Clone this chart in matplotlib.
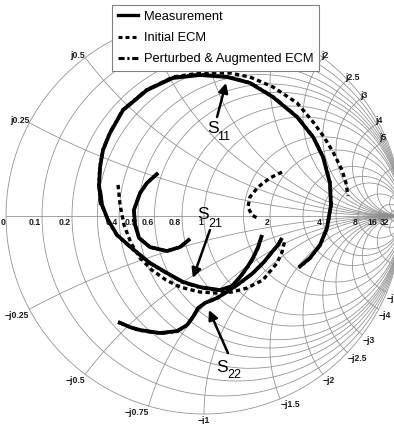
import numpy as np
import matplotlib
matplotlib.use('Agg')
import matplotlib.pyplot as plt
from matplotlib.lines import Line2D

plt.rcParams['font.family'] = ['Liberation Sans', 'DejaVu Sans']

# Smith chart grid values
r_grid = [0, 0.1, 0.2, 0.3, 0.4, 0.5, 0.6, 0.8, 1, 1.5, 2, 3, 4, 5, 8, 16, 32]
x_grid = [0.25, 0.5, 0.75, 1, 1.5, 2, 2.5, 3, 4, 5, 8, 16, 32]
r_labels = [0, 0.1, 0.2, 0.4, 0.5, 0.6, 0.8, 1, 2, 4, 8, 16, 32]
x_labels_up = [0.25, 0.5, 2, 2.5, 3, 4, 5]          # j0.75..j1.5 sit under the legend
x_labels_lo = [0.25, 0.5, 0.75, 1, 1.5, 2, 2.5, 3, 4, 5]

s11_meas_re = [-0.520, -0.530, -0.525, -0.510, -0.475, -0.409, -0.288, -0.157, -0.020, 0.116, 0.232,
               0.348, 0.470, 0.551, 0.601, 0.636, 0.641, 0.621, 0.586, 0.535, 0.480]
s11_meas_im = [0.056, 0.157, 0.247, 0.333, 0.419, 0.535, 0.636, 0.697, 0.712, 0.702, 0.672,
               0.601, 0.500, 0.399, 0.298, 0.167, 0.056, -0.061, -0.146, -0.212, -0.258]
s21_meas_re = [-0.525, -0.515, -0.485, -0.439, -0.359, -0.273, -0.187, -0.106, -0.020, 0.081,
               0.141, 0.182, 0.222, 0.247, 0.273, 0.293]
s21_meas_im = [0.131, 0.056, -0.020, -0.096, -0.167, -0.237, -0.288, -0.333, -0.359, -0.374,
               -0.354, -0.308, -0.253, -0.212, -0.157, -0.096]
s22_meas_re = [-0.434, -0.374, -0.323, -0.222, -0.136, -0.086, -0.056, -0.030, 0.005, 0.066,
               0.121, 0.182, 0.247, 0.303, 0.343, 0.374, 0.394]
s22_meas_im = [-0.535, -0.561, -0.576, -0.591, -0.581, -0.551, -0.510, -0.465, -0.439, -0.414,
               -0.379, -0.338, -0.288, -0.232, -0.182, -0.146, -0.111]
s12_meas_re = [-0.232, -0.288, -0.323, -0.354, -0.348, -0.328, -0.273, -0.187, -0.121, -0.071]
s12_meas_im = [0.217, 0.167, 0.116, 0.030, -0.045, -0.111, -0.157, -0.177, -0.157, -0.116]

s11_init_re = [-0.409, -0.288, -0.157, -0.020, 0.131, 0.232, 0.348, 0.470, 0.551, 0.606, 0.652,
               0.697, 0.717, 0.727]
s11_init_im = [0.535, 0.636, 0.702, 0.722, 0.722, 0.702, 0.652, 0.571, 0.475, 0.399, 0.323,
               0.232, 0.167, 0.101]
s21_init_re = [-0.434, -0.424, -0.404, -0.369, -0.323, -0.263, -0.192, -0.121, -0.020, 0.066,
               0.141, 0.217, 0.298, 0.369, 0.394, 0.409]
s21_init_im = [0.157, 0.056, -0.045, -0.136, -0.212, -0.273, -0.323, -0.359, -0.384, -0.389,
               -0.384, -0.364, -0.323, -0.237, -0.182, -0.121]
s12_init_re = [0.394, 0.333, 0.273, 0.232, 0.222, 0.242, 0.268]
s12_init_im = [0.222, 0.192, 0.146, 0.096, 0.045, 0.005, -0.010]

s11_pert_re = [-0.522, -0.531, -0.526, -0.511, -0.476, -0.410, -0.289, -0.158, -0.021, 0.117, 0.233,
               0.349, 0.471, 0.552, 0.602, 0.637, 0.642, 0.622, 0.587, 0.536, 0.478]
s11_pert_im = [0.056, 0.157, 0.248, 0.334, 0.420, 0.536, 0.638, 0.699, 0.714, 0.704, 0.673,
               0.602, 0.501, 0.399, 0.298, 0.167, 0.055, -0.062, -0.147, -0.213, -0.262]
s21_pert_re = [-0.526, -0.516, -0.486, -0.440, -0.360, -0.274, -0.188, -0.107, -0.021, 0.080,
               0.141, 0.183, 0.223, 0.248, 0.274, 0.293]
s21_pert_im = [0.131, 0.056, -0.021, -0.097, -0.168, -0.238, -0.289, -0.335, -0.361, -0.376,
               -0.355, -0.309, -0.254, -0.213, -0.158, -0.098]
s22_pert_re = [-0.434, -0.374, -0.323, -0.222, -0.136, -0.086, -0.056, -0.030, 0.005, 0.066,
               0.121, 0.182, 0.247, 0.303, 0.343, 0.374, 0.394]
s22_pert_im = [-0.536, -0.562, -0.578, -0.593, -0.583, -0.552, -0.511, -0.466, -0.440, -0.415,
               -0.380, -0.339, -0.289, -0.233, -0.183, -0.147, -0.112]
s12_pert_re = [-0.232, -0.288, -0.323, -0.354, -0.348, -0.328, -0.273, -0.187, -0.121, -0.071]
s12_pert_im = [0.217, 0.167, 0.116, 0.030, -0.045, -0.111, -0.157, -0.177, -0.157, -0.116]


def z2g(z):
    return (z - 1) / (z + 1)


fig = plt.figure(figsize=(3.94, 4.24), dpi=100)
ax = fig.add_axes([0, 0, 1, 1])
ax.set_xlim(-1.0303, 0.9596)
ax.set_ylim(-1.0505, 1.0909)
ax.set_aspect('equal')
ax.axis('off')

grid_kw = dict(color='#8c8c8c', lw=0.55, zorder=1)
t = np.linspace(0, 2 * np.pi, 500)
for r in r_grid:
    c, rad = r / (1 + r), 1 / (1 + r)
    ax.plot(c + rad * np.cos(t), rad * np.sin(t), **grid_kw)
rr = np.concatenate([np.linspace(0, 1, 200), np.logspace(0, 4, 300)])
for x in x_grid:
    for s in (1, -1):
        g = z2g(rr + 1j * s * x)
        ax.plot(g.real, g.imag, **grid_kw)
ax.plot([-1, 1], [0, 0], **grid_kw)

lab_kw = dict(fontsize=6.2, fontweight='bold', color='#1a1a1a', zorder=2)
for r in r_labels:
    g = z2g(r)
    ax.text(g.real - 0.005, -0.012, '%g' % r, ha='right', va='top', **lab_kw)

up_align = {0.25: 'right', 0.5: 'right', 2: 'left', 2.5: 'left', 3: 'left', 4: 'center', 5: 'right'}
lo_align = {0.25: 'right', 0.5: 'right', 0.75: 'right', 1: 'center', 1.5: 'left',
            2: 'left', 2.5: 'left', 3: 'left', 4: 'left', 5: 'left'}
for x in x_labels_up:
    g = z2g(1j * x)
    dx = -0.01 if up_align[x] == 'left' else 0.0
    ax.text(g.real + dx, g.imag + 0.01, 'j%g' % x, ha=up_align[x], va='center', **lab_kw)
for x in x_labels_lo:
    g = z2g(-1j * x)
    ax.text(g.real, g.imag - 0.008, '\u2212j%g' % x, ha=lo_align[x], va='top', **lab_kw)

dash = (0, (1.3, 1.0))
dashdot = (0, (2.0, 0.9, 0.7, 0.9))
meas_kw = dict(color='black', lw=2.7, solid_capstyle='butt', zorder=4)
init_kw = dict(color='black', lw=2.4, linestyle=dash, zorder=3)
pert_kw = dict(color='black', lw=2.4, linestyle=dashdot, zorder=5)

ax.plot(s11_init_re, s11_init_im, **init_kw)
ax.plot(s21_init_re, s21_init_im, **init_kw)
ax.plot(s12_init_re, s12_init_im, **init_kw)

for re, im in [(s11_meas_re, s11_meas_im), (s21_meas_re, s21_meas_im),
               (s22_meas_re, s22_meas_im), (s12_meas_re, s12_meas_im)]:
    ax.plot(re, im, **meas_kw)
for re, im in [(s11_pert_re, s11_pert_im), (s21_pert_re, s21_pert_im),
               (s22_pert_re, s22_pert_im), (s12_pert_re, s12_pert_im)]:
    ax.plot(re, im, **pert_kw)

# S-parameter callouts: subscript, arrow tail, arrow head, "S" baseline, subscript baseline
callouts = [('11', (0.066, 0.500), (0.111, 0.672), (0.015, 0.419), (0.066, 0.384)),
            ('21', (0.030, -0.071), (-0.056, -0.313), (-0.035, -0.015), (0.020, -0.056)),
            ('22', (0.121, -0.692), (0.025, -0.475), (0.061, -0.788), (0.116, -0.818))]
for sub, tail, head, spos, subpos in callouts:
    ax.annotate('', xy=head, xytext=tail,
                arrowprops=dict(arrowstyle='-|>', lw=1.8, color='black', mutation_scale=14,
                                shrinkA=0, shrinkB=0), zorder=6)
    ax.text(spos[0], spos[1], 'S', fontsize=12.5, ha='left', va='baseline', zorder=6)
    ax.text(subpos[0], subpos[1], sub, fontsize=9, ha='left', va='baseline', zorder=6)

handles = [Line2D([], [], color='black', lw=2.4),
           Line2D([], [], color='black', lw=2.2, linestyle=dash),
           Line2D([], [], color='black', lw=2.2, linestyle=dashdot)]
leg = ax.legend(handles, ['Measurement', 'Initial ECM', 'Perturbed & Augmented ECM'],
                loc='upper left', bbox_to_anchor=(0.284, 0.988), borderaxespad=0,
                fontsize=9.3, handlelength=1.55, handletextpad=0.45, labelspacing=0.7,
                borderpad=0.45, fancybox=False, framealpha=1, edgecolor='#808080')
leg.get_frame().set_linewidth(0.8)
leg.set_zorder(10)

fig.savefig('out.png', dpi=100)
